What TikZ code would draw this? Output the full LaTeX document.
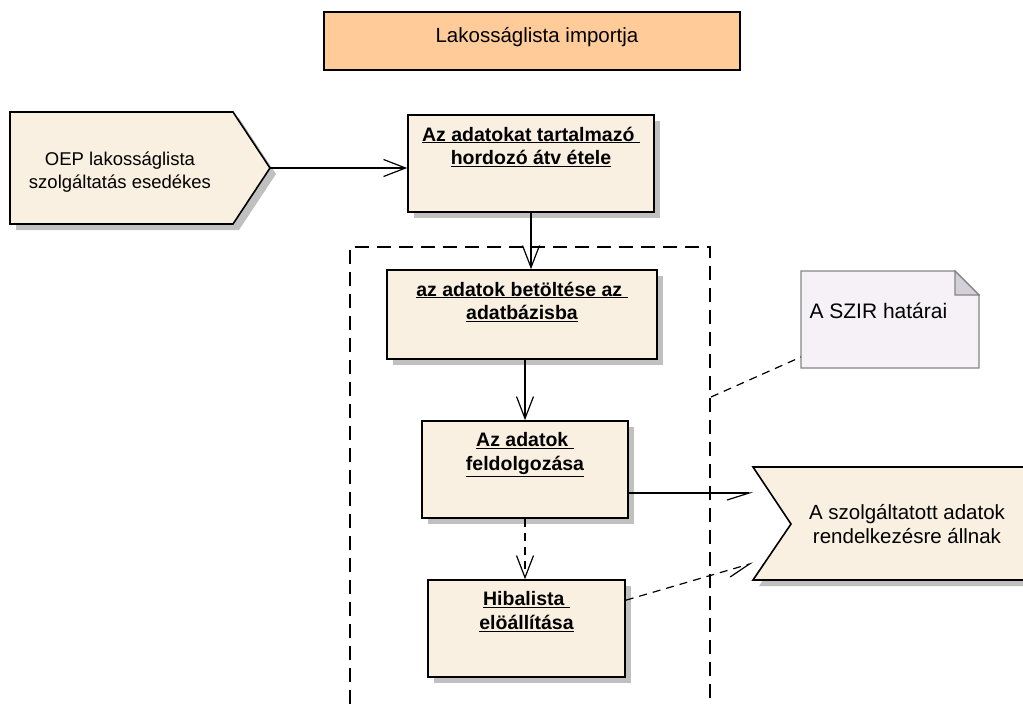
\documentclass[tikz,border=0pt]{standalone}
\usepackage{fontspec}
\setmainfont{Liberation Sans}
\usetikzlibrary{arrows.meta, positioning, shadows}
\definecolor{titlefill}{HTML}{FFCC99}
\definecolor{boxfill}{HTML}{FAF0E1}
\definecolor{notefill}{HTML}{F5F1F7}
\definecolor{notefold}{HTML}{D4D0D8}
\definecolor{notegray}{HTML}{858585}
\definecolor{shadowgray}{HTML}{C0C0C0}

\begin{document}
\begin{tikzpicture}[x=1pt, y=-1pt,
    every node/.style={font=\fontsize{18.5}{23}\selectfont},
    nagy/.style={font=\fontsize{20.5}{24.5}\selectfont},
    shadowed/.style={drop shadow={shadow xshift=6pt, shadow yshift=-6pt, fill=shadowgray, opacity=1}},
    activity/.style={draw, line width=1.6pt, fill=boxfill, shadowed, inner sep=0pt},
    caption/.style={align=center, font=\fontsize{19.5}{23.5}\selectfont\bfseries},
    flow/.style={line width=1.2pt, -{Straight Barb[length=22pt, width=17pt]}},
    halfflow/.style={line width=1.2pt, -{Straight Barb[harpoon, swap, length=22pt, width=14pt]}},
    szaggatott/.style={dash pattern=on 8pt off 6pt}]
        \useasboundingbox (0,0) rectangle (1023,704);

        % cim
        \node[draw, line width=1.6pt, fill=titlefill, minimum width=416pt, minimum height=58pt] (cim) at (532,41) {};
        \node[nagy] (cimfelirat) at (537,37) {Lakosságlista importja};

        % esemenyek
        \draw[line width=1.6pt, fill=boxfill, shadowed] (10,112) -- (233,112) -- (270,168) coordinate (esemeny1) -- (233,224) -- (10,224) -- cycle;
        \node[align=center] (esemeny1-t) at (120,172) {OEP lakosságlista\\szolgáltatás esedékes};

        \draw[line width=1.6pt, fill=boxfill, shadowed] (1040,467) -- (753,467) -- (791,524) -- (753,580) -- (1040,580);
        \coordinate (esemeny2a) at (753,493);
        \coordinate (esemeny2b) at (753,563);
        \node[nagy, align=center] (esemeny2-t) at (907,524) {A szolgáltatott adatok\\rendelkezésre állnak};

        % rendszerhatar
        \draw[line width=1.6pt, dash pattern=on 14pt off 8pt] (350,704) -- (350,247) -- (710,247) -- (710,704);
        \coordinate (hatar) at (711,397);

        % tevekenysegek
        \node[activity, minimum width=246pt, minimum height=97pt] (atvetel) at (531,163.5) {};
        \node[caption, below=9pt of atvetel.north] (atvetel-t) {\underline{Az adatokat tartalmazó }\\\underline{hordozó átv étele}};

        \node[activity, minimum width=270pt, minimum height=89pt] (betoltes) at (522,314.5) {};
        \node[caption, below=9pt of betoltes.north] (betoltes-t) {\underline{az adatok betöltése az }\\\underline{adatbázisba}};

        \node[activity, minimum width=206pt, minimum height=97pt] (feldolgozas) at (525,469.5) {};
        \node[caption, below=9pt of feldolgozas.north] (feldolgozas-t) {\underline{Az adatok }\\\underline{feldolgozása}};

        \node[activity, minimum width=197pt, minimum height=97pt] (hibalista) at (526.5,628.5) {};
        \node[caption, below=9pt of hibalista.north] (hibalista-t) {\underline{Hibalista }\\\underline{elöállítása}};

        % megjegyzes
        \draw[notegray, line width=1.2pt, fill=notefill] (801,271) -- (955,271) -- (979,295) -- (979,368) -- (801,368) -- cycle;
        \draw[notegray, line width=1.2pt, fill=notefold] (955,271) -- (955,295) -- (979,295) -- cycle;
        \coordinate (megj) at (801,357);
        \node[anchor=base west, font=\fontsize{21}{25}\selectfont] (megj-t) at (806,318) {A SZIR határai};

        % kapcsolatok
        \draw[flow] (esemeny1) -- (atvetel.west |- esemeny1);
        \draw[flow] (atvetel.south) -- (atvetel.south |- betoltes.north);
        \draw[flow] (feldolgozas.north |- betoltes.south) -- (feldolgozas.north);
        \draw[flow, szaggatott] (feldolgozas.south) -- (feldolgozas.south |- hibalista.north);
        \draw[halfflow] (feldolgozas.east |- esemeny2a) -- (esemeny2a);
        \draw[halfflow, szaggatott] ([yshift=-21pt]hibalista.north east) -- (esemeny2b);
        \draw[line width=1.2pt, szaggatott] (hatar) -- (megj);
\end{tikzpicture}
\end{document}
